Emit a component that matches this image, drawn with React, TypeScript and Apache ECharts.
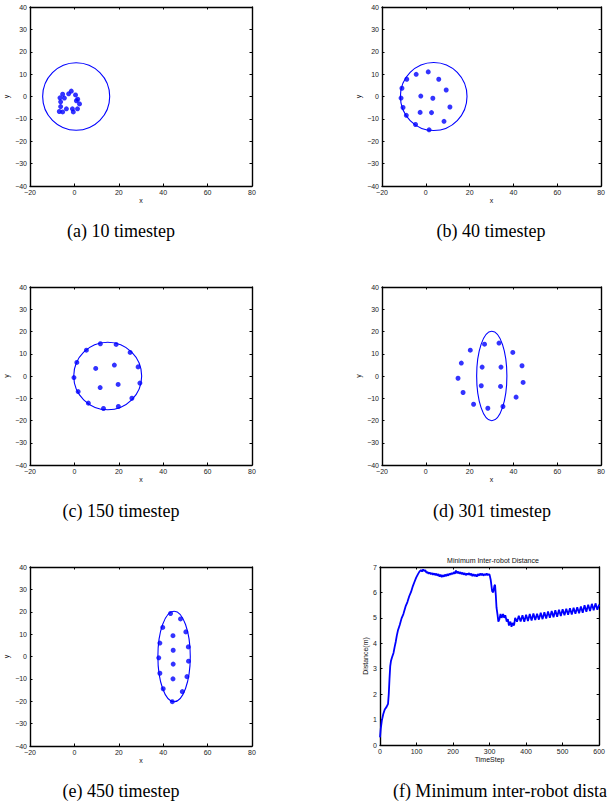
import React, { useEffect, useRef } from "react";
import * as echarts from "echarts";

// ---------- data ----------
const xTickRange = [-20, 80];
const yTickRange = [-40, 40];

const robotsA = [
  [-5.3, 1.0], [-6.5, -0.6], [-4.5, -0.7], [-6.2, -2.4], [-2.6, 1.2], [-1.4, 2.4],
  [0.5, 0.7], [1.5, -1.2], [0.9, -1.9], [2.3, -3.3], [-6.2, -4.5], [-3.6, -5.5],
  [-6.8, -6.7], [-5.3, -6.9], [-0.9, -5.5], [-0.5, -6.9], [1.4, -5.5],
];
const shapeA = [[0.8, 0, 15.1, 15.1]];

const robotsB = [
  [-4.4, 9.9], [1.1, 11.0], [5.9, 7.7], [-8.7, 7.7], [-10.9, 3.7], [9.3, 2.9],
  [-11.3, -0.7], [-2.3, 0.2], [3.2, -0.8], [-10.4, -4.9], [11.0, -4.7], [-2.6, -7.1],
  [2.6, -7.2], [-8.9, -8.4], [8.3, -11.1], [-4.7, -12.5], [1.5, -14.9],
];
const shapeB = [[3.6, 0, 15.2, 15.2]];

const robotsC = [
  [11.7, 14.5], [18.8, 14.2], [5.4, 11.6], [25.1, 10.6], [1.1, 6.1], [9.6, 3.4],
  [18.0, 4.9], [28.7, 4.1], [-0.2, -0.7], [11.6, -5.2], [19.7, -3.8], [29.5, -3.2],
  [1.7, -7.0], [25.9, -10.0], [6.3, -12.2], [13.1, -14.6], [19.8, -13.7],
];
const shapeC = [[15, 0, 15.3, 15.2]];

const robotsD = [
  [26.8, 14.3], [33.4, 14.8], [20.3, 11.6], [39.7, 10.6], [16.2, 5.8], [25.7, 4.0],
  [34.3, 4.0], [43.9, 4.6], [14.7, -1.0], [25.3, -4.4], [34.1, -4.7], [44.4, -2.9],
  [17.0, -7.4], [41.2, -9.5], [21.8, -12.7], [28.3, -14.5], [35.2, -13.7],
];
const shapeD = [[30.1, 0, 6.9, 20.1]];

const robotsE = [
  [43.3, 19.2], [47.8, 16.8], [39.8, 13.0], [50.2, 11.0], [44.4, 9.3], [38.5, 6.0],
  [51.3, 4.3], [44.5, 2.8], [38.0, -0.6], [51.4, -2.1], [44.5, -3.4], [38.5, -7.5],
  [50.7, -9.0], [44.4, -10.0], [40.0, -14.4], [48.6, -15.7], [44.1, -20.2],
];
const shapeE = [[44.9, 0, 7.3, 20.2]];

const timeSteps = [
  0, 2, 5, 9, 13, 18, 22, 24, 26, 28, 30, 33, 37, 40, 43, 46, 49, 54, 59, 64, 70, 75, 80, 85, 90, 94, 99, 104, 108,
  112, 115, 118, 121, 124, 127, 130, 133, 136, 139, 142, 145, 148, 151, 154, 157, 160, 163, 166, 169, 172, 175, 178,
  181, 184, 187, 190, 193, 196, 199, 202, 205, 208, 211, 214, 217, 220, 223, 226, 229, 232, 235, 238, 241, 244, 247,
  250, 253, 256, 259, 262, 265, 268, 271, 274, 277, 280, 283, 286, 289, 292, 295, 298, 300,
  303, 307, 310, 313, 315, 317, 319, 322, 324, 327, 330, 333, 337, 340, 343, 347, 350, 353, 357, 360, 363, 367, 370,
  375, 380, 385, 390, 395, 400, 405, 410, 415, 420, 425, 430, 435, 440, 445, 450, 455, 460, 465, 470, 475, 480, 485,
  490, 495, 500, 505, 510, 515, 520, 525, 530, 535, 540, 545, 550, 555, 560, 565, 570, 575, 580, 585, 590, 595, 600,
];
const minDistance = [
  0.3, 0.63, 0.96, 1.22, 1.4, 1.5, 1.62, 2.0, 2.6, 3.1, 3.3, 3.45, 3.62, 3.85, 4.05, 4.3, 4.5, 4.72, 4.98, 5.15, 5.45,
  5.62, 5.85, 6.02, 6.25, 6.4, 6.58, 6.72, 6.82,
  6.88, 6.82, 6.9, 6.84, 6.88, 6.78, 6.8, 6.74, 6.78, 6.72, 6.76, 6.7, 6.75, 6.68, 6.74, 6.66, 6.72, 6.62, 6.7, 6.6,
  6.68, 6.62, 6.7, 6.64, 6.72, 6.66, 6.74, 6.7, 6.76, 6.72, 6.8, 6.74, 6.86, 6.76, 6.82, 6.74, 6.8, 6.72, 6.78, 6.7,
  6.76, 6.68, 6.74, 6.7, 6.76, 6.68, 6.74, 6.64, 6.72, 6.64, 6.7, 6.62, 6.72, 6.66, 6.74, 6.68, 6.74, 6.66, 6.72,
  6.68, 6.74, 6.68, 6.72, 6.7,
  6.5, 6.05, 6.0, 6.25, 6.3, 5.9, 5.4, 5.1, 4.85, 4.95, 5.15, 5.0, 5.15, 5.0, 5.1, 4.85, 4.95, 4.7, 4.85, 4.65, 4.8,
  4.7, 5.0, 4.85, 5.08, 4.86, 5.1, 4.85, 5.12, 4.88, 5.15, 4.9, 5.17, 4.92, 5.16, 4.93, 5.2, 4.95, 5.22, 4.97, 5.25,
  5.0, 5.27, 5.02, 5.3, 5.04, 5.32, 5.07, 5.34, 5.1, 5.36, 5.12, 5.38, 5.13, 5.4, 5.16, 5.42, 5.18, 5.45, 5.2, 5.5,
  5.24, 5.52, 5.27, 5.55, 5.3, 5.57, 5.32, 5.52,
];

const captions = [
  "(a) 10 timestep",
  "(b) 40 timestep",
  "(c) 150 timestep",
  "(d) 301 timestep",
  "(e) 450 timestep",
  "(f) Minimum inter-robot dista",
];
const lineTitle = "Minimum Inter-robot Distance";

// ---------- layout ----------
const BLUE = "#0000ff";
const SANS = "'Liberation Sans', Arial, sans-serif";
const SERIF = "'Liberation Serif', 'Times New Roman', serif";

const grids = [
  { left: 30, top: 7, width: 222, height: 179 },
  { left: 382, top: 7, width: 223, height: 179 },
  { left: 30, top: 287, width: 222, height: 178 },
  { left: 382, top: 287, width: 223, height: 178 },
  { left: 30, top: 567, width: 222, height: 179 },
  { left: 380, top: 567, width: 226, height: 178 },
];

const fmt = (v: number) => (v < 0 ? "\u2212" + String(-v) : String(v));

function axisPair(gridIndex: number, min: number, max: number, interval: number, isX: boolean, name: string, nameGap: number) {
  const common = {
    type: "value",
    gridIndex,
    min,
    max,
    interval,
    splitLine: { show: false },
    axisLine: { show: true, onZero: false, lineStyle: { color: "#000", width: 1.4 } },
    axisTick: { show: true, inside: true, length: 2.5, lineStyle: { color: "#000", width: 1 } },
  };
  const main = {
    ...common,
    position: isX ? "bottom" : "left",
    name,
    nameLocation: "middle",
    nameGap,
    nameTextStyle: { fontFamily: SANS, fontSize: 7, color: "#111" },
    axisLabel: { show: true, margin: 3, fontFamily: SANS, fontSize: 7, color: "#222", formatter: fmt },
  };
  const other = { ...common, position: isX ? "top" : "right", axisLabel: { show: false } };
  return [main, other];
}

export default function App() {
  const ref = useRef<HTMLDivElement>(null);
  useEffect(() => {
    if (!ref.current) return;
    const chart = echarts.init(ref.current, null, { renderer: "svg" });
    const scatters = [robotsA, robotsB, robotsC, robotsD, robotsE];
    const shapes = [shapeA, shapeB, shapeC, shapeD, shapeE];

    const xAxis: any[] = [];
    const yAxis: any[] = [];
    const series: any[] = [];
    for (let i = 0; i < 5; i++) {
      xAxis.push(...axisPair(i, xTickRange[0], xTickRange[1], 20, true, "x", 11));
      yAxis.push(...axisPair(i, yTickRange[0], yTickRange[1], 10, false, "y", 20));
      series.push({
        type: "scatter",
        xAxisIndex: 2 * i,
        yAxisIndex: 2 * i,
        data: scatters[i],
        symbolSize: 5,
        itemStyle: { color: BLUE },
      });
      series.push({
        type: "custom",
        xAxisIndex: 2 * i,
        yAxisIndex: 2 * i,
        data: shapes[i],
        encode: { x: 0, y: 1 },
        renderItem: (params: any, api: any) => {
          const c = api.coord([api.value(0), api.value(1)]);
          const s = api.size([api.value(2), api.value(3)]);
          return {
            type: "ellipse",
            shape: { cx: c[0], cy: c[1], rx: s[0], ry: s[1] },
            style: { fill: "none", stroke: BLUE, lineWidth: 1.1 },
          };
        },
      });
    }
    xAxis.push(...axisPair(5, 0, 600, 100, true, "TimeStep", 11));
    yAxis.push(...axisPair(5, 0, 7, 1, false, "Distance(m)", 11));
    series.push({
      type: "line",
      xAxisIndex: 10,
      yAxisIndex: 10,
      data: timeSteps.map((t, k) => [t, minDistance[k]]),
      showSymbol: false,
      lineStyle: { color: BLUE, width: 1.8 },
      itemStyle: { color: BLUE },
    });

    const capPos = [
      [121, 231], [491, 231], [121, 511], [492, 511], [121, 791],
    ];
    const graphic: any[] = captions.slice(0, 5).map((t, i) => ({
      type: "text",
      x: capPos[i][0],
      y: capPos[i][1],
      style: {
        text: t, fill: "#000", font: `18px ${SERIF}`,
        textAlign: "center", textVerticalAlign: "middle", align: "center", verticalAlign: "middle",
      },
    }));
    graphic.push({
      type: "text",
      x: 607,
      y: 791,
      style: {
        text: captions[5], fill: "#000", font: `18px ${SERIF}`,
        textAlign: "right", textVerticalAlign: "middle", align: "right", verticalAlign: "middle",
      },
    });
    graphic.push({
      type: "text",
      x: 493,
      y: 560,
      style: {
        text: lineTitle, fill: "#111", font: `7px ${SANS}`,
        textAlign: "center", textVerticalAlign: "middle", align: "center", verticalAlign: "middle",
      },
    });

    chart.setOption({
      animation: false,
      backgroundColor: "#fff",
      grid: grids.map((g) => ({ ...g, containLabel: false })),
      xAxis,
      yAxis,
      series,
      graphic,
    });
    return () => chart.dispose();
  }, []);
  return (
    <div
      ref={ref}
      style={{ position: "fixed", left: 0, top: 0, width: 608, height: 805, background: "#fff" }}
    />
  );
}
